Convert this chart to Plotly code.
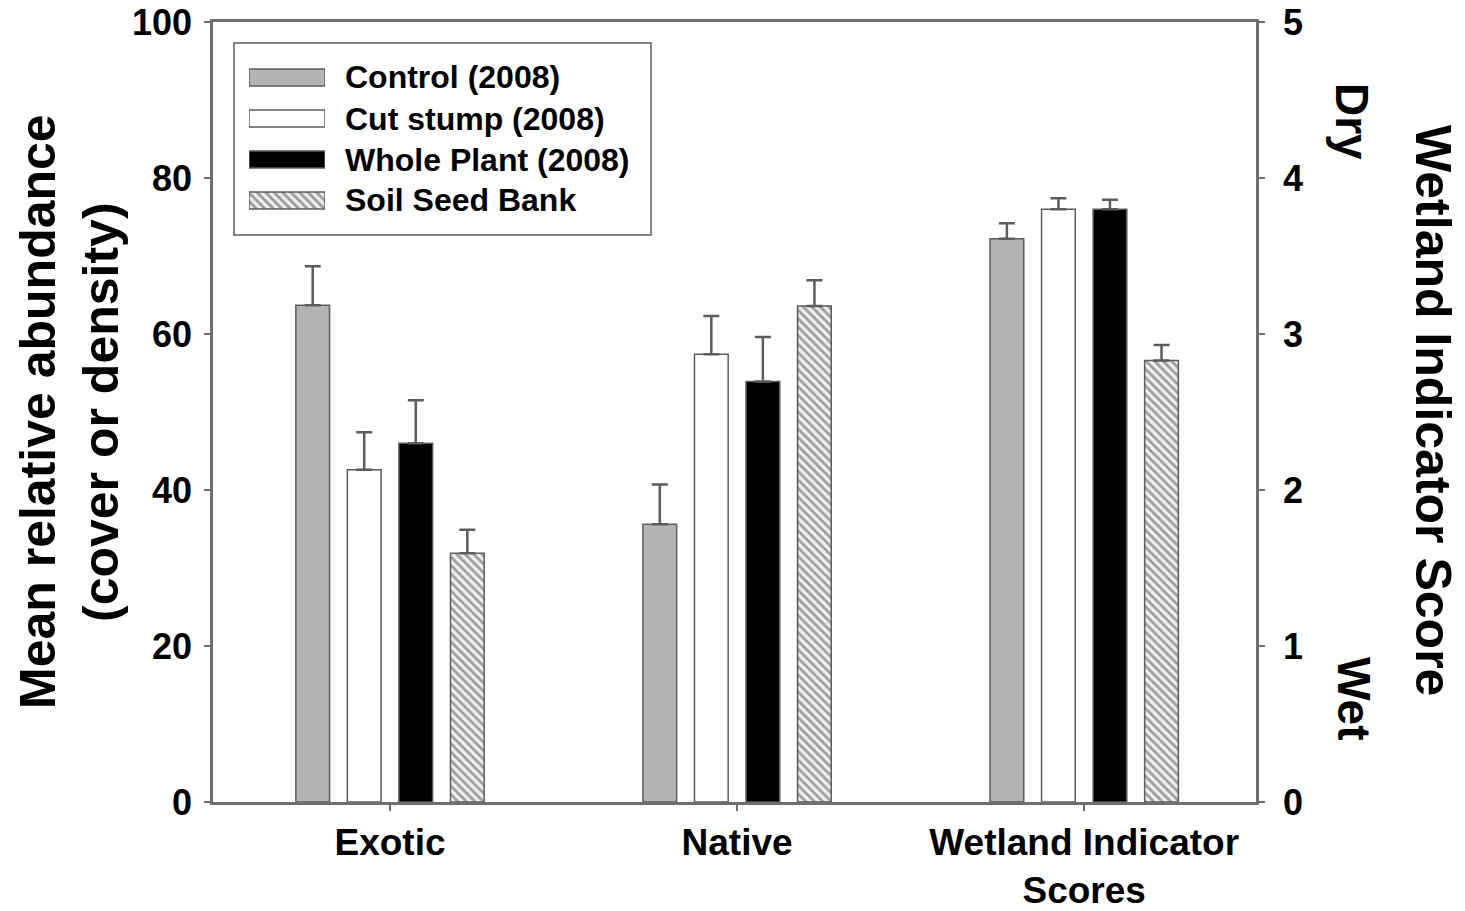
import plotly.graph_objects as go

# ---- data -------------------------------------------------------------
categories = ["Exotic", "Native", "Wetland Indicator Scores"]
tick_labels = ["Exotic", "Native", "Wetland Indicator<br>Scores"]
series_names = ["Control (2008)", "Cut stump (2008)", "Whole Plant (2008)", "Soil Seed Bank"]

# mean relative abundance (cover or density) for Exotic, Native
control_abund = [63.7, 35.6]
cut_abund = [42.6, 57.4]
whole_abund = [46.0, 53.9]
seed_abund = [31.9, 63.6]

# standard errors of the abundance means
control_abund_se = [5.0, 5.1]
cut_abund_se = [4.8, 4.9]
whole_abund_se = [5.5, 5.7]
seed_abund_se = [3.0, 3.3]

# wetland indicator score (right axis), one value per series
wis_mean = [3.61, 3.80, 3.80, 2.83]
wis_se = [0.10, 0.07, 0.06, 0.10]

abund = [control_abund, cut_abund, whole_abund, seed_abund]
abund_se = [control_abund_se, cut_abund_se, whole_abund_se, seed_abund_se]

# ---- styling ----------------------------------------------------------
FONT = "Liberation Sans, Arial, Helvetica, sans-serif"
EDGE = "#5c5c5c"
AXIS = "#6e6e6e"

fills = ["#b3b3b3", "#ffffff", "#000000", "#efefef"]
patterns = ["", "", "", "\\"]


def marker_for(i):
    m = dict(color=fills[i], line=dict(color=EDGE, width=1.5))
    if patterns[i]:
        m["pattern"] = dict(shape=patterns[i], fgcolor="#4a4a4a",
                            bgcolor="#efefef", size=6, solidity=0.45)
    return m


def up_err(vals):
    return dict(type="data", symmetric=False, array=vals,
                arrayminus=[0] * len(vals), color=EDGE,
                thickness=2.5, width=8)


fig = go.Figure()

for i, name in enumerate(series_names):
    fig.add_trace(go.Bar(
        name=name, x=categories[:2], y=abund[i],
        marker=marker_for(i), error_y=up_err(abund_se[i]),
        xaxis="x", yaxis="y", showlegend=False,
    ))
for i, name in enumerate(series_names):
    fig.add_trace(go.Bar(
        name=name, x=[categories[2]], y=[wis_mean[i]],
        marker=marker_for(i), error_y=up_err([wis_se[i]]),
        xaxis="x", yaxis="y2", showlegend=False,
    ))

# legend keys drawn as wide swatches in a small helper subplot
fig.add_trace(go.Bar(
    orientation="h", y=series_names, x=[1] * len(series_names),
    width=0.415, cliponaxis=False,
    marker=dict(color=fills, line=dict(color=EDGE, width=1.5),
                pattern=dict(shape=patterns, fgcolor="#4a4a4a",
                             bgcolor="#efefef", size=6, solidity=0.45)),
    xaxis="x3", yaxis="y3", showlegend=False, hoverinfo="skip",
))

# ---- layout -----------------------------------------------------------
W, H = 1465, 911
L, R, T, B = 213, 209, 22, 109
pw, ph = W - L - R, H - T - B


def px(xp):
    return (xp - L) / pw


def py(yp):
    return (H - B - yp) / ph


def bold(s):
    return f"<b>{s}</b>"


tick_common = dict(showline=True, linecolor=AXIS, linewidth=2.5,
                   ticks="outside", ticklen=6, tickwidth=1.5,
                   tickcolor=AXIS, showgrid=False, zeroline=False,
                   automargin=False,
                   tickprefix="<b>", ticksuffix="</b>",
                   tickfont=dict(family=FONT, size=36, color="black"))

fig.update_layout(
    width=W, height=H,
    margin=dict(l=L, r=R, t=T, b=B, autoexpand=False),
    paper_bgcolor="white", plot_bgcolor="white",
    barmode="group", bargap=0.406, bargroupgap=0.346,
    font=dict(family=FONT, color="black"),
    xaxis=dict(type="category", categoryorder="array",
               categoryarray=categories, range=[-0.51, 2.495],
               tickvals=categories,
               ticktext=[bold(t) for t in tick_labels],
               showline=True, linecolor=AXIS, linewidth=2.5,
               ticks="outside", ticklen=6, tickwidth=1.5, tickcolor=AXIS,
               showgrid=False, zeroline=False, automargin=False,
               mirror=True, ticklabelstandoff=0,
               tickfont=dict(family=FONT, size=37, color="black")),
    yaxis=dict(range=[0, 100], dtick=20, ticklabelstandoff=5,
               **tick_common),
    yaxis2=dict(range=[0, 5], dtick=1, overlaying="y", side="right",
                ticklabelstandoff=11, **tick_common),
    xaxis3=dict(domain=[px(249), px(325)], anchor="y3", range=[0, 1],
                visible=False, fixedrange=True, automargin=False),
    yaxis3=dict(domain=[py(221), py(57)], anchor="x3", type="category",
                categoryorder="array", categoryarray=series_names,
                range=[3.5, -0.5], visible=False, fixedrange=True,
                automargin=False),
    showlegend=False,
)

# legend frame
fig.add_shape(type="rect", xref="paper", yref="paper",
              x0=px(234), x1=px(651), y0=py(235), y1=py(43),
              line=dict(color=EDGE, width=1.5), fillcolor="white",
              layer="below")

# legend labels
row_y = [77.5, 118.5, 159.5, 200.5]
for name, yy in zip(series_names, row_y):
    fig.add_annotation(x=px(343), y=py(yy), xref="paper", yref="paper",
                       text=bold(name), showarrow=False, xanchor="left",
                       yanchor="middle",
                       font=dict(family=FONT, size=32, color="black"))

# axis titles
title_font = dict(family=FONT, size=50, color="black")
fig.add_annotation(x=px(38), y=py(412), xref="paper", yref="paper",
                   text=bold("Mean relative abundance"), textangle=-90,
                   showarrow=False, xanchor="center", yanchor="middle",
                   font=title_font)
fig.add_annotation(x=px(101), y=py(412), xref="paper", yref="paper",
                   text=bold("(cover or density)"), textangle=-90,
                   showarrow=False, xanchor="center", yanchor="middle",
                   font=title_font)
fig.add_annotation(x=px(1433), y=py(410), xref="paper", yref="paper",
                   text=bold("Wetland Indicator Score"), textangle=90,
                   showarrow=False, xanchor="center", yanchor="middle",
                   font=title_font)
fig.add_annotation(x=px(1352), y=py(121), xref="paper", yref="paper",
                   text=bold("Dry"), textangle=90,
                   showarrow=False, xanchor="center", yanchor="middle",
                   font=dict(family=FONT, size=46, color="black"))
fig.add_annotation(x=px(1354), y=py(699), xref="paper", yref="paper",
                   text=bold("Wet"), textangle=90,
                   showarrow=False, xanchor="center", yanchor="middle",
                   font=dict(family=FONT, size=46, color="black"))

fig.write_html("out.html")
